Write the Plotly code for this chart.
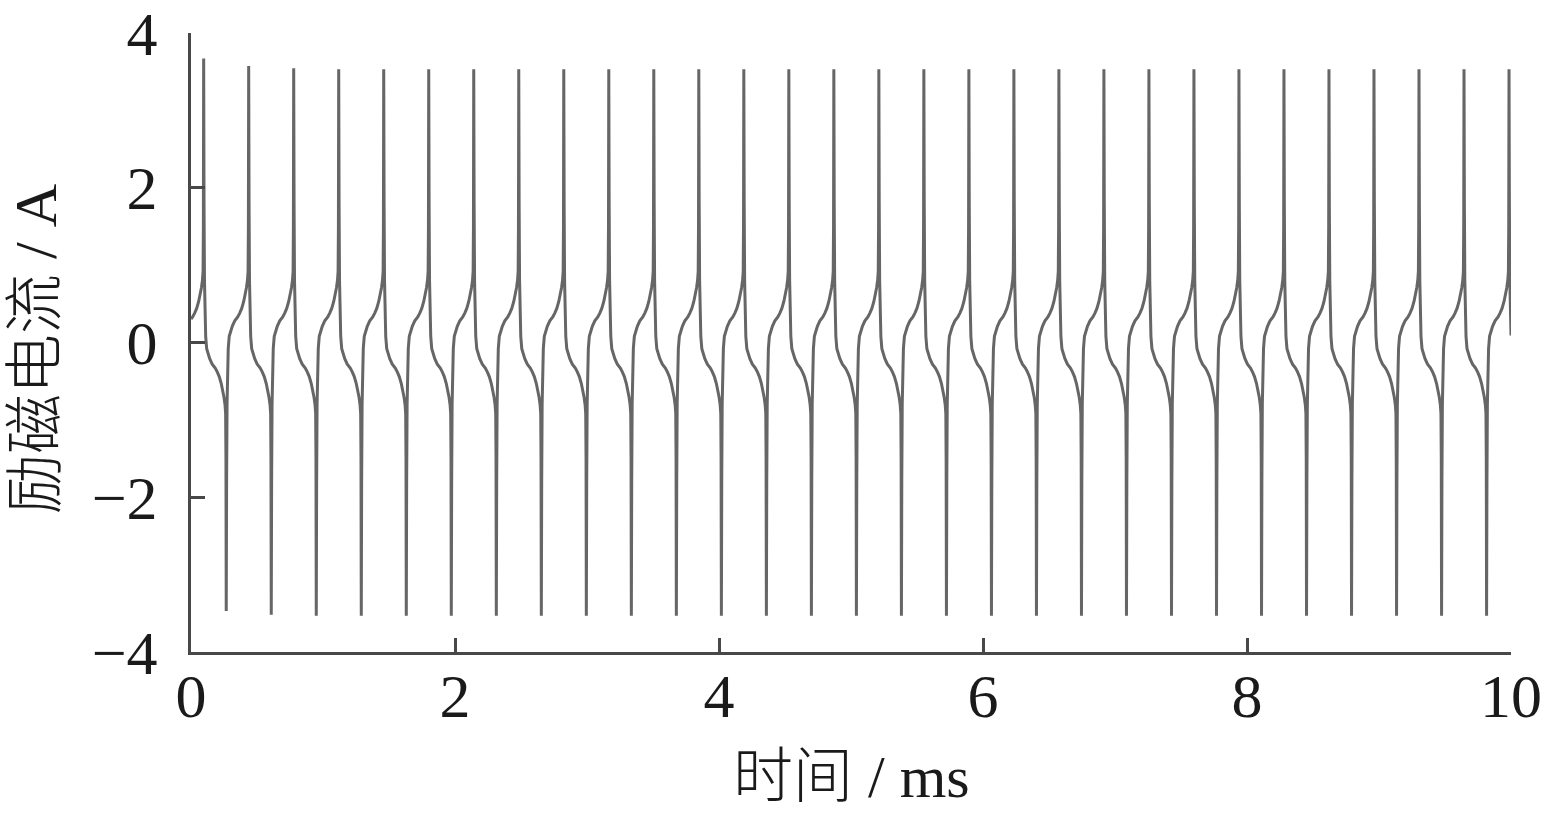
import numpy as np
import plotly.graph_objects as go

# ---- data ----
# times (ms) of the positive current spikes and their peak values (A)
pos_spike_t = [0.096, 0.437, 0.778, 1.119, 1.460, 1.801, 2.142, 2.483, 2.824, 3.165,
               3.506, 3.847, 4.188, 4.529, 4.870, 5.211, 5.552, 5.893, 6.234, 6.575,
               6.916, 7.257, 7.598, 7.939, 8.280, 8.621, 8.962, 9.303, 9.644, 9.985]
pos_spike_peak = [3.67, 3.575, 3.545, 3.53, 3.53, 3.53, 3.53, 3.53, 3.53, 3.53,
                  3.53, 3.53, 3.53, 3.53, 3.53, 3.53, 3.53, 3.53, 3.53, 3.53,
                  3.53, 3.53, 3.53, 3.53, 3.53, 3.53, 3.53, 3.53, 3.53, 3.53]
# times (ms) of the negative current spikes and their peak values (A)
neg_spike_t = [-0.075, 0.267, 0.608, 0.949, 1.290, 1.631, 1.972, 2.313, 2.654, 2.995,
               3.336, 3.677, 4.018, 4.359, 4.700, 5.041, 5.382, 5.723, 6.064, 6.405,
               6.746, 7.087, 7.428, 7.769, 8.110, 8.451, 8.792, 9.133, 9.474, 9.815,
               10.156]
neg_spike_peak = [-3.47, -3.47, -3.52, -3.53, -3.53, -3.53, -3.53, -3.53, -3.53, -3.53,
                  -3.53, -3.53, -3.53, -3.53, -3.53, -3.53, -3.53, -3.53, -3.53, -3.53,
                  -3.53, -3.53, -3.53, -3.53, -3.53, -3.53, -3.53, -3.53, -3.53, -3.53,
                  -3.53]
# shape of the wave between a positive spike and the following negative spike
# (position as fraction of the gap, current in A); the other half is its mirror
half_shape_frac = [0.016, 0.036, 0.058, 0.089, 0.133, 0.191, 0.267, 0.378, 0.511,
                   0.600, 0.689, 0.778, 0.844, 0.902, 0.947, 0.973, 0.987]
half_shape_val = [1.8, 0.8, 0.35, 0.08, -0.08, -0.14, -0.21, -0.28, -0.33,
                  -0.38, -0.44, -0.53, -0.62, -0.71, -0.81, -0.92, -1.5]

t_min, t_max = 0.0, 10.0
x_ticks = [0, 2, 4, 6, 8, 10]
y_ticks = [-4, -2, 0, 2, 4]

# ---- assemble the waveform ----
events = sorted([(t, p, 1) for t, p in zip(pos_spike_t, pos_spike_peak)] +
                [(t, n, -1) for t, n in zip(neg_spike_t, neg_spike_peak)])
t_all, i_all = [], []
for (ta, pa, sa), (tb, pb, sb) in zip(events[:-1], events[1:]):
    t_all.append(ta)
    i_all.append(pa)
    for f, v in zip(half_shape_frac, half_shape_val):
        t_all.append(ta + f * (tb - ta))
        i_all.append(sa * v)
t_all.append(events[-1][0])
i_all.append(events[-1][1])
t_all = np.array(t_all)
i_all = np.array(i_all)
inside = (t_all > t_min) & (t_all < t_max)
t_plot = np.concatenate([[t_min], t_all[inside], [t_max]])
i_plot = np.interp(t_plot, t_all, i_all)

fig = go.Figure()
fig.add_trace(go.Scatter(x=t_plot, y=i_plot, mode="lines",
                         line=dict(color="#666666", width=3),
                         showlegend=False, hoverinfo="skip"))

tick_font = dict(family="Liberation Serif, Times New Roman, serif", size=62, color="#1a1a1a")
title_font = dict(family="Liberation Serif, Noto Sans CJK SC, serif", size=60,
                  color="#1a1a1a", weight=300)

axis_common = dict(showline=True, linewidth=3, linecolor="#484848", mirror=False,
                   ticks="inside", ticklen=14, tickwidth=3, tickcolor="#484848",
                   showgrid=False, zeroline=False, tickfont=tick_font, automargin=False,
                   ticklabeloverflow="allow")

fig.update_layout(
    width=1551, height=816,
    margin=dict(l=191, r=40, t=33, b=164),
    paper_bgcolor="white", plot_bgcolor="white",
    xaxis=dict(range=[t_min, t_max], tickvals=x_ticks, ticklabelstandoff=-12, **axis_common),
    yaxis=dict(range=[-4, 4], tickvals=y_ticks, ticklabelstandoff=18, **axis_common),
    annotations=[
        dict(text="时间 / ms", x=0.5, y=-0.202, xref="paper", yref="paper",
             xanchor="center", yanchor="middle", showarrow=False, font=title_font),
        dict(text="励磁电流 / A", x=-0.118, y=0.49, xref="paper", yref="paper",
             xanchor="center", yanchor="middle", showarrow=False, textangle=-90,
             font=title_font),
    ],
)

fig.write_html("out.html", config={"displayModeBar": False},
               post_script="document.body.style.margin='0';")
